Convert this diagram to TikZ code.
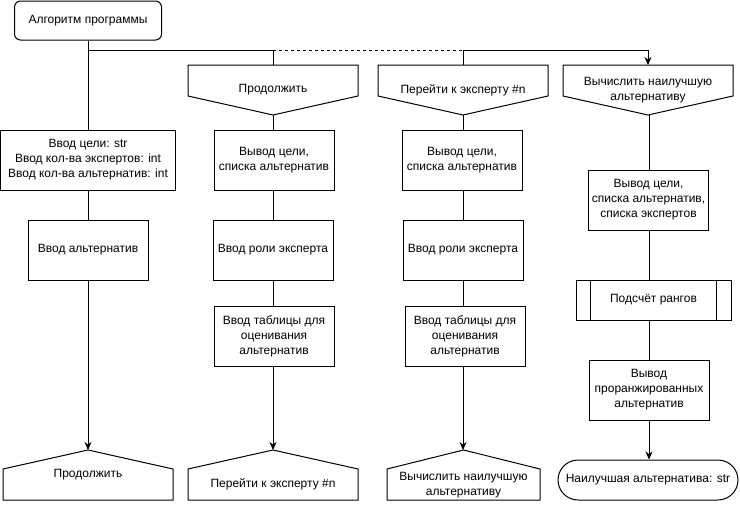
\documentclass[tikz,border=0pt]{standalone}
\usepackage{fontspec}
\setmainfont{Liberation Sans}
\usetikzlibrary{arrows.meta}

\begin{document}
\begin{tikzpicture}[x=1pt, y=-1pt, line width=1pt, >={Stealth[length=8pt,width=7pt]},
    font=\fontsize{12}{15}\selectfont,
    box/.style={draw, minimum width=120pt, minimum height=60pt, align=center, inner sep=1pt},
    offpg/.style={minimum width=170pt, minimum height=50pt, align=center, inner sep=1pt, outer sep=0pt}]
    \useasboundingbox (0,0) rectangle (740,506);

    % Start
    \node[draw, rounded corners=6pt, minimum width=147pt, minimum height=39pt] (start) at (88,20.5) {Алгоритм программы};
    \coordinate (fork) at (88,50);

    % Column 1: input
    \node[box, minimum width=175pt] (in1) at (88,160) {Ввод цели: str\\Ввод кол-ва экспертов: int\\Ввод кол-ва альтернатив: int};
    \node[box] (alt1) at (88,250) {Ввод альтернатив};
    \node[offpg] (cont2) at (88,475) {Продолжить};

    % Column 2: continue
    \node[offpg] (cont1) at (273,90) {Продолжить};
    \node[box] (out2) at (274,160) {Вывод цели,\\списка альтернатив};
    \node[box] (role2) at (273,250) {Ввод роли эксперта};
    \node[box] (tab2) at (274,336) {Ввод таблицы для\\оценивания\\альтернатив};
    \node[offpg, label={[yshift=-9pt]center:Перейти к эксперту \#n}] (jump2) at (273,475) {};

    % Column 3: next expert
    \node[offpg] (jump1) at (463,90) {Перейти к эксперту \#n};
    \node[box] (out3) at (462,160) {Вывод цели,\\списка альтернатив};
    \node[box] (role3) at (463,250) {Ввод роли эксперта};
    \node[box] (tab3) at (465,336) {Ввод таблицы для\\оценивания\\альтернатив};
    \node[offpg, minimum width=153pt, label={[yshift=-10pt, align=center]center:Вычислить наилучшую\\альтернативу}] (calc2) at (463.5,475) {};

    % Column 4: best alternative
    \node[offpg] (calc1) at (648,90) {Вычислить наилучшую\\альтернативу};
    \node[box] (out4) at (648.5,200) {Вывод цели,\\списка альтернатив,\\списка экспертов};
    \node[box, minimum width=155pt, minimum height=40pt] (rank) at (653.5,300) {Подсчёт рангов};
    \node[box] (rk) at (649,390) {Вывод\\проранжированных\\альтернатив};
    \node[draw, rounded corners=20pt, minimum width=180pt, minimum height=40pt, inner sep=1pt] (best) at (648,480) {Наилучшая альтернатива: str};

    % Off-page shapes
    \foreach \n in {cont1,jump1,calc1}
        \draw (\n.north west) -- (\n.north east) -- ([yshift=19pt]\n.south east) -- (\n.south) -- ([yshift=19pt]\n.south west) -- cycle;
    \foreach \n in {cont2,jump2,calc2}
        \draw ([yshift=-19pt]\n.north west) -- (\n.north) -- ([yshift=-19pt]\n.north east) -- (\n.south east) -- (\n.south west) -- cycle;
    \draw ([xshift=15pt]rank.north west) -- ([xshift=15pt]rank.south west);
    \draw ([xshift=-15pt]rank.north east) -- ([xshift=-15pt]rank.south east);

    % Branches
    \draw (start) -- (in1);
    \draw (fork) -| (cont1.north);
    \draw[dashed] (cont1.north |- fork) -- (jump1.north |- fork);
    \draw[->] (jump1.north |- fork) -| (calc1.north);
    \draw (jump1.north |- fork) -- (jump1.north);

    % Flows
    \draw (in1) -- (alt1);
    \draw[->] (alt1) -- (cont2.north);
    \draw (cont1.south) -- (cont1.south |- out2.north);
    \draw (out2.south -| role2) -- (role2);
    \draw (role2) -- (role2 |- tab2.north);
    \draw[->] (role2 |- tab2.south) -- (jump2.north);
    \draw (jump1.south) -- (jump1.south |- out3.north);
    \draw (jump1.south |- out3.south) -- (jump1.south |- role3.north);
    \draw (jump1.south |- role3.south) -- (jump1.south |- tab3.north);
    \draw[->] (jump1.south |- tab3.south) -- (jump1.south |- calc2.north);
    \draw (rk |- calc1.south) -- (rk |- out4.north);
    \draw (rk |- out4.south) -- (rk |- rank.north);
    \draw (rk |- rank.south) -- (rk);
    \draw[->] (rk) -- (rk |- best.north);
\end{tikzpicture}
\end{document}
